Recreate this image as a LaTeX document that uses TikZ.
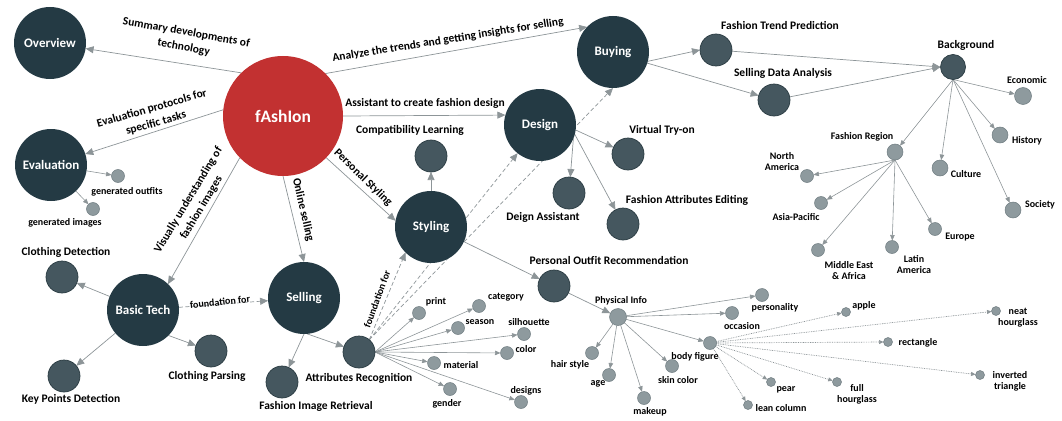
\documentclass[tikz,border=0pt]{standalone}
\usepackage{fontspec}
\setmainfont{Carlito}
\usetikzlibrary{arrows.meta}
\pgfdeclarelayer{bg}
\pgfsetlayers{bg,main}
\definecolor{cdark}{HTML}{243A44}
\definecolor{cmid}{HTML}{45575F}
\definecolor{cmidb}{HTML}{2A3B42}
\definecolor{clight}{HTML}{8E9A9E}
\definecolor{clightb}{HTML}{6E7B80}
\definecolor{cred}{HTML}{C23131}
\definecolor{cline}{HTML}{8D9598}
\begin{document}
\begin{tikzpicture}[x=1pt,y=-1pt,
  big/.style={circle, fill=cdark, minimum size=72pt, inner sep=0pt, outer sep=0pt, text=white, font=\bfseries\fontsize{13}{15}\selectfont},
  red/.style={big, fill=cred, minimum size=120pt, font=\bfseries\fontsize{17.5}{20}\selectfont},
  mid/.style={circle, fill=cmid, draw=cmidb, line width=0.7pt, minimum size=#1, inner sep=0pt, outer sep=0pt},
  mid/.default=32pt,
  sml/.style={circle, fill=clight, draw=clightb, line width=0.5pt, minimum size=#1, inner sep=0pt, outer sep=0pt},
  sml/.default=13pt,
  lbl/.style={font=\bfseries\fontsize{11.5}{15}\selectfont, text=black, inner sep=0pt, align=center},
  slbl/.style={font=\bfseries\fontsize{10}{11}\selectfont, text=black, inner sep=0pt, align=center},
  arr/.style={draw=cline, line width=0.7pt, -{Triangle[length=8pt,width=7pt]}},
  sarr/.style={draw=cline, line width=0.6pt, -{Triangle[length=5.5pt,width=4.5pt]}},
  dsharr/.style={arr, dash pattern=on 4pt off 2.5pt},
  dotarr/.style={draw=cline, line width=0.7pt, dash pattern=on 0.8pt off 0.9pt, -{Triangle[length=4.5pt,width=4pt]}}
]
\useasboundingbox (0,0) rectangle (1062,420);

% ---- big nodes
\node[red] (fashion) at (283,116) {fAshIon};
\node[big] (overview) at (50,43) {Overview};
\node[big] (evaluation) at (51,165) {Evaluation};
\node[big] (buying) at (613,52) {Buying};
\node[big] (design) at (540,125) {Design};
\node[big] (styling) at (431,227) {Styling};
\node[big] (basic) at (143,310) {Basic Tech};
\node[big] (selling) at (304,298) {Selling};

% ---- medium nodes
\node[mid] (compat) at (431,156) {};
\node[mid] (virtual) at (628,154) {};
\node[mid] (da) at (569,193) {};
\node[mid] (attred) at (623,224) {};
\node[mid] (trend) at (716,50) {};
\node[mid] (sdata) at (774,100) {};
\node[mid] (outfit) at (554,286) {};
\node[mid] (ar) at (359,352) {};
\node[mid] (clothdet) at (62,277) {};
\node[mid] (keypts) at (64,376) {};
\node[mid] (parsing) at (211,351) {};
\node[mid] (retrieval) at (282,382) {};
\node[mid=25pt] (background) at (953,67) {};

% ---- small nodes
\node[sml] (genout) at (118,176) {};
\node[sml] (genimg) at (93,209) {};
\node[sml=17pt] (economic) at (1023,96) {};
\node[sml=16pt] (history) at (1000,135) {};
\node[sml=16pt] (culture) at (940,168) {};
\node[sml=16pt] (society) at (1013,210) {};
\node[sml=16pt] (region) at (895,152) {};
\node[sml] (na) at (807,176) {};
\node[sml] (ap) at (821,203) {};
\node[sml] (mea) at (818,250) {};
\node[sml] (la) at (892,247) {};
\node[sml] (europe) at (935,229) {};
\node[sml] (print) at (419,313) {};
\node[sml] (category) at (479,306) {};
\node[sml] (season) at (458,328) {};
\node[sml] (silhouette) at (524,334) {};
\node[sml] (color) at (507,353) {};
\node[sml] (material) at (434,363) {};
\node[sml] (gender) at (450,389) {};
\node[sml] (designs) at (521,402) {};
\node[sml=17pt] (physical) at (618,317) {};
\node[sml] (hair) at (592,353) {};
\node[sml] (age) at (609,375) {};
\node[sml] (makeup) at (644,398) {};
\node[sml] (skin) at (672,366) {};
\node[sml] (body) at (710,343) {};
\node[sml] (personality) at (762,295) {};
\node[sml] (occasion) at (732,313) {};
\node[sml=9pt] (apple) at (846,312) {};
\node[sml=9pt] (neat) at (996,311) {};
\node[sml=9pt] (rect) at (888,342) {};
\node[sml=9pt] (inv) at (980,375) {};
\node[sml=9pt] (full) at (837,382) {};
\node[sml=9pt] (pear) at (771,382) {};
\node[sml=9pt] (lean) at (748,405) {};

% ---- node labels (large)
\node[lbl] (tcompat) at (410,130) {Compatibility Learning};
\node[lbl] (tvirtual) at (662,130) {Virtual Try-on};
\node[lbl] (tda) at (543,217) {Deign Assistant};
\node[lbl] (tattred) at (687,200) {Fashion Attributes Editing};
\node[lbl] (ttrend) at (780,25) {Fashion Trend Prediction};
\node[lbl] (tsdata) at (783,73) {Selling Data Analysis};
\node[lbl] (tbackground) at (966,45) {Background};
\node[lbl] (toutfit) at (609,260) {Personal Outfit Recommendation};
\node[lbl] (tar) at (359,378) {Attributes Recognition};
\node[lbl] (tclothdet) at (66,252) {Clothing Detection};
\node[lbl] (tkeypts) at (71,399) {Key Points Detection};
\node[lbl] (tparsing) at (207,376) {Clothing Parsing};
\node[lbl] (tretrieval) at (316,406) {Fashion Image Retrieval};

% ---- node labels (small)
\node[slbl] (tgenout) at (127,192) {generated outfits};
\node[slbl] (tgenimg) at (65,223) {generated images};
\node[slbl] (teconomic) at (1027,80) {Economic};
\node[slbl] (thistory) at (1027,141) {History};
\node[slbl] (tculture) at (966,174) {Culture};
\node[slbl] (tsociety) at (1040,205) {Society};
\node[slbl] (tregion) at (862,137) {Fashion Region};
\node[slbl] (tna) at (782,162) {North\\America};
\node[slbl] (tap) at (796,217) {Asia-Pacific};
\node[slbl] (tmea) at (849,271) {Middle East\\\& Africa};
\node[slbl] (tla) at (914,265) {Latin\\America};
\node[slbl] (teurope) at (960,237) {Europe};
\node[slbl] (tprint) at (436,302) {print};
\node[slbl] (tcategory) at (506,297) {category};
\node[slbl] (tseason) at (480,322) {season};
\node[slbl] (tsilhouette) at (529,322) {silhouette};
\node[slbl] (tcolor) at (526,349) {color};
\node[slbl] (tmaterial) at (461,365) {material};
\node[slbl] (tgender) at (447,404) {gender};
\node[slbl] (tdesigns) at (526,391) {designs};
\node[slbl] (tphysical) at (621,301) {Physical Info};
\node[slbl] (thair) at (570,365) {hair style};
\node[slbl] (tage) at (598,384) {age};
\node[slbl] (tmakeup) at (650,412) {makeup};
\node[slbl] (tskin) at (678,380) {skin color};
\node[slbl] (tbody) at (695,357) {body figure};
\node[slbl] (tpersonality) at (775,308) {personality};
\node[slbl] (toccasion) at (742,326) {occasion};
\node[slbl] (tapple) at (864,306) {apple};
\node[slbl] (tneat) at (1018,318) {neat\\hourglass};
\node[slbl] (trect) at (918,343) {rectangle};
\node[slbl] (tinv) at (1010,381) {inverted\\triangle};
\node[slbl] (tfull) at (857,394) {full\\hourglass};
\node[slbl] (tpear) at (786,390) {pear};
\node[slbl] (tlean) at (781,408) {lean column};

% ---- edge labels
\node[lbl, rotate=-10] (lsum) at (185,40) {Summary developments of\\technology};
\node[lbl, rotate=16] (leval) at (154,116) {Evaluation protocols for\\specific tasks};
\node[lbl, rotate=9] (lanalyze) at (448,40) {Analyze the trends and getting insights for selling};
\node[lbl] (lassist) at (425,103) {Assistant to create fashion design};
\node[lbl, rotate=-44] (lpers) at (363,178) {Personal Styling};
\node[lbl, rotate=-77] (lonline) at (303,210) {Online selling};
\node[lbl, rotate=59] (lvis) at (195,204) {Visually understanding of\\fashion images};
\node[slbl, rotate=6] (lfound1) at (220,302) {foundation for};
\node[slbl, rotate=70] (lfound2) at (377,299) {foundation for};

% ---- connectors
\begin{pgfonlayer}{bg}
\draw[arr] (fashion.134) -- (overview);
\draw[arr] (fashion.174) -- (evaluation);
\draw[arr] (fashion.45) -- (buying.136);
\draw[arr] (fashion.east) -- (design.164);
\draw[arr] (fashion.-44) -- (styling.170);
\draw[arr] (fashion.south) -- (selling.north);
\draw[arr] (fashion.224) -- (basic.46);
\draw[sarr] (evaluation) -- (genout);
\draw[sarr] (evaluation) -- (genimg);
\draw[arr] (buying.-15) -- (trend.west);
\draw[arr] (buying.-18) -- (sdata);
\draw[arr] (trend) -- (background.west);
\draw[arr] (sdata) -- (background.west);
\foreach \t in {economic,history,culture,society,region} \draw[sarr] (background.south) -- (\t);
\foreach \t in {na,ap,mea,la,europe} \draw[sarr] (region.south) -- (\t);
\draw[arr] (design.-8) -- (virtual);
\draw[arr] (design.-22) -- (da);
\draw[arr] (design.-15) -- (attred);
\draw[arr] (styling) -- (compat);
\draw[arr] (styling.-24) -- (outfit);
\draw[arr] (outfit) -- (physical);
\foreach \t in {personality,occasion,body,skin,makeup,age,hair} \draw[sarr] (physical) -- (\t);
\foreach \t in {apple,neat,rect,inv,full,pear,lean} \draw[dotarr] (body) -- (\t);
\draw[arr] (basic) -- (clothdet);
\draw[arr] (basic) -- (keypts);
\draw[arr] (basic.-45) -- (parsing);
\draw[dsharr] (basic) -- (selling);
\draw[arr] (selling.south) -- (retrieval);
\draw[arr] (selling.-85) -- (ar);
\foreach \t in {print,category,season,silhouette,color,material,gender,designs} \draw[sarr] (ar.east) -- (\t);
\draw[dsharr] (ar.50) -- (styling.225);
\draw[dsharr] (ar.50) -- (design);
\draw[dsharr] (ar.50) -- (buying.south);
\end{pgfonlayer}
\end{tikzpicture}
\end{document}
